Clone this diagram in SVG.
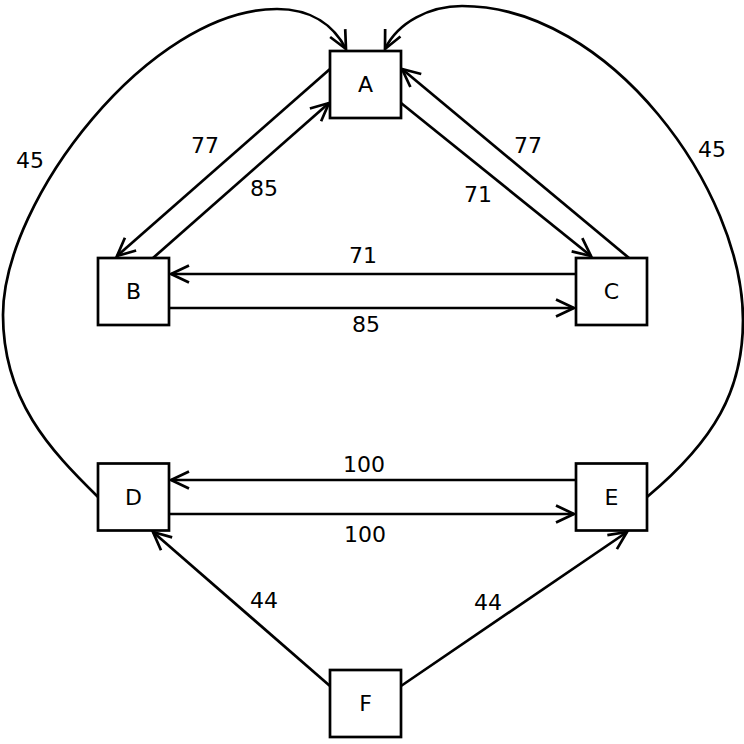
<svg xmlns="http://www.w3.org/2000/svg" width="744" height="744" viewBox="0 0 744 744">
<style>
.node rect{fill:#fff;stroke:#000;stroke-width:2.7}
.node text,.lbl{font-family:"DejaVu Sans",sans-serif;font-size:22px;fill:#000;text-anchor:middle}
.edge{fill:none;stroke:#000;stroke-width:2.7;marker-end:url(#arr)}
</style>
<defs>
<marker id="arr" markerUnits="userSpaceOnUse" viewBox="-21 -11 23 22" refX="0" refY="0" markerWidth="23" markerHeight="22" orient="auto" overflow="visible">
<path d="M-18,-8.5 L0,0 L-18,8.5" fill="none" stroke="#000" stroke-width="2.7"/>
</marker>
</defs>
<rect width="744" height="744" fill="#fff"/>
<g id="connectors">
<path class="edge" d="M330,69 L117,256"/>
<path class="edge" d="M153,258 L329,103"/>
<path class="edge" d="M401,103 L591,256"/>
<path class="edge" d="M629,258 L402,69"/>
<path class="edge" d="M576,274 L171,274"/>
<path class="edge" d="M169,308 L574,308"/>
<path class="edge" d="M576,480 L171,480"/>
<path class="edge" d="M169,514 L574,514"/>
<path class="edge" d="M330,686 L153,532"/>
<path class="edge" d="M401,686 L627,532"/>
<path class="edge" d="M98,497 C50,450 3,400 3,315 C3,200 150,9 277,9 C312,9 334,26 346,49"/>
<path class="edge" d="M647,497 C715,440 743,390 743,320 C743,190 610,6 462,6 C430,6 398,22 385,49"/>
<text class="lbl" x="205" y="153">77</text>
<text class="lbl" x="264" y="196">85</text>
<text class="lbl" x="478" y="202">71</text>
<text class="lbl" x="528" y="153">77</text>
<text class="lbl" x="363" y="263">71</text>
<text class="lbl" x="366" y="332">85</text>
<text class="lbl" x="364" y="472">100</text>
<text class="lbl" x="365" y="542">100</text>
<text class="lbl" x="264" y="608">44</text>
<text class="lbl" x="488" y="610">44</text>
<text class="lbl" x="30" y="168">45</text>
<text class="lbl" x="712" y="157">45</text>
</g>
<g id="A" class="node"><rect x="330" y="51" width="71" height="67"/><text x="365.5" y="92">A</text></g>
<g id="B" class="node"><rect x="98" y="258" width="71" height="67"/><text x="133.5" y="299">B</text></g>
<g id="C" class="node"><rect x="576" y="258" width="71" height="67"/><text x="611.5" y="299">C</text></g>
<g id="D" class="node"><rect x="98" y="463.5" width="71" height="67"/><text x="133.5" y="505">D</text></g>
<g id="E" class="node"><rect x="576" y="463.5" width="71" height="67"/><text x="611.5" y="505">E</text></g>
<g id="F" class="node"><rect x="330" y="670" width="71" height="67"/><text x="365.5" y="711">F</text></g>
</svg>
